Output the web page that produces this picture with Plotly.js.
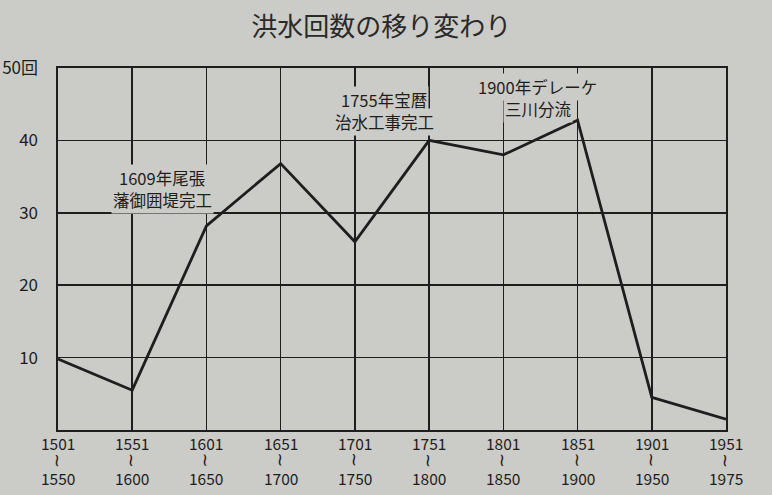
<!DOCTYPE html>
<html>
<head>
<meta charset="utf-8">
<script src="https://cdn.plot.ly/plotly-3.0.1.min.js"></script>
<style>html,body{margin:0;padding:0;background:#cbcbc7;}</style>
</head>
<body>
<div id="chart" style="width:772px;height:495px;"></div>
<script>
const periodStart = ["1501","1551","1601","1651","1701","1751","1801","1851","1901","1951"];
const periodEnd   = ["1550","1600","1650","1700","1750","1800","1850","1900","1950","1975"];
const floodCounts = [9.8, 5.5, 28.2, 36.8, 26, 40, 38, 42.8, 4.5, 1.5];
const yTickVals = [10, 20, 30, 40, 50];
const yTickText = ["10", "20", "30", "40", "50回"];
const noteIdx   = [2, 5, 7];
const noteY     = [33.3, 44.1, 45.9];
const noteLine1 = ["1609年尾張", "1755年宝暦", "1900年デレーケ"];
const noteLine2 = ["藩御囲堤完工", "治水工事完工", "三川分流"];

const xIdx = periodStart.map((_, i) => i);
const paper = "#cbcbc7";
const ink = "#1e1e1e";
const font = "Noto Sans CJK JP, Noto Sans, sans-serif";
const noteShift = [-44, -45, -40];

const trace = {
  x: xIdx, y: floodCounts, type: "scatter", mode: "lines",
  line: {color: ink, width: 2.8}, hoverinfo: "skip", showlegend: false
};

const anns = [];
noteIdx.forEach((idx, k) => {
  [noteLine1[k], noteLine2[k]].forEach((t, j) => {
    anns.push({x: idx, y: noteY[k], xref: "x", yref: "y", text: t, showarrow: false,
      xshift: noteShift[k], yshift: j === 0 ? 11 : -11, borderpad: 1, bgcolor: paper,
      font: {family: font, size: 16.5, color: ink}});
  });
});
xIdx.forEach(i => {
  anns.push({x: i, y: 0, xref: "x", yref: "paper", text: periodStart[i], showarrow: false,
    yanchor: "middle", yshift: -13, borderpad: 0, font: {family: font, size: 15.5, color: ink}});
  anns.push({x: i, y: 0, xref: "x", yref: "paper", text: "~", textangle: 90, showarrow: false,
    yanchor: "middle", yshift: -30, borderpad: 0, font: {family: "DejaVu Sans", size: 18, color: ink}});
  anns.push({x: i, y: 0, xref: "x", yref: "paper", text: periodEnd[i], showarrow: false,
    yanchor: "middle", yshift: -48, borderpad: 0, font: {family: font, size: 15.5, color: ink}});
});

const layout = {
  width: 772, height: 495,
  margin: {l: 58, r: 46, t: 68, b: 65},
  paper_bgcolor: paper, plot_bgcolor: paper,
  font: {family: font, color: ink, size: 14},
  title: {text: "洪水回数の移り変わり", x: 0.494, xanchor: "center", y: 0.945, yanchor: "middle",
          font: {family: font, size: 26, color: "#2a2a2a"}},
  xaxis: {
    range: [0, 9], tickmode: "array", tickvals: xIdx, showticklabels: false,
    showgrid: true, gridcolor: ink, gridwidth: 1.6, zeroline: false,
    showline: true, linecolor: ink, linewidth: 1.6, mirror: true,
    ticks: "", fixedrange: true
  },
  yaxis: {
    range: [0, 50], tickmode: "array", tickvals: yTickVals, ticktext: yTickText,
    showgrid: true, gridcolor: ink, gridwidth: 1.6, zeroline: false,
    showline: true, linecolor: ink, linewidth: 1.6, mirror: true,
    ticks: "", ticklabelstandoff: 15, tickfont: {family: font, size: 17, color: ink}, fixedrange: true
  },
  annotations: anns
};

Plotly.newPlot("chart", [trace], layout, {displayModeBar: false, staticPlot: true});
</script>
</body>
</html>
